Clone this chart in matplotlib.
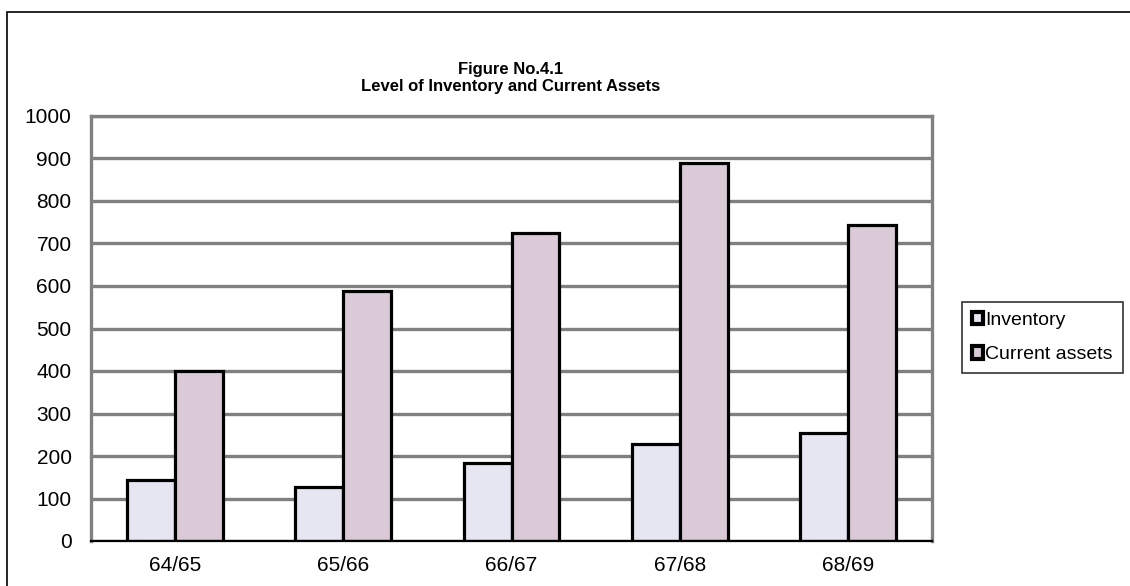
import matplotlib.pyplot as plt
import numpy as np
from matplotlib.patches import Rectangle

years = ["64/65", "65/66", "66/67", "67/68", "68/69"]
inventory = [144, 126, 183, 228, 253]
current_assets = [400, 588, 724, 889, 743]
y_ticks = [0, 100, 200, 300, 400, 500, 600, 700, 800, 900, 1000]

plt.rcParams["font.family"] = ["Liberation Sans", "DejaVu Sans"]

W, H = 1130, 586
fig = plt.figure(figsize=(W / 100, H / 100), dpi=100)
ax = fig.add_axes([91 / W, 1 - 541 / H, (932 - 91) / W, (541 - 116) / H])

# outer chart frame (only left and top edges fall inside the image)
fig.patches.append(Rectangle((7 / W, -0.1), 1.2, 1 - 12 / H + 0.1, transform=fig.transFigure,
                             fill=False, edgecolor="black", linewidth=1.2))

x = np.arange(len(years))
w = 0.285
ax.bar(x - w / 2, inventory, w, color="#E6E6F2", edgecolor="black", linewidth=2.3,
       label="Inventory", zorder=3)
ax.bar(x + w / 2, current_assets, w, color="#DACAD8", edgecolor="black", linewidth=2.3,
       label="Current assets", zorder=3)

ax.set_xlim(-0.5, len(years) - 0.5)
ax.set_ylim(0, 1000)
ax.set_yticks(y_ticks)
ax.set_xticks(x)
ax.set_xticklabels(years)
ax.tick_params(axis="y", length=0, pad=14, labelsize=15)
ax.tick_params(axis="x", length=0, pad=11, labelsize=15)
ax.yaxis.grid(True, color="#808080", linewidth=2.4, zorder=1)

for side in ["left", "top", "right"]:
    ax.spines[side].set_color("#808080")
    ax.spines[side].set_linewidth(2.4)
ax.spines["bottom"].set_color("black")
ax.spines["bottom"].set_linewidth(1.6)
ax.spines["bottom"].set_zorder(4)

fig.text(511 / W, 1 - 78 / H, "Figure No.4.1\nLevel of Inventory and Current Assets",
         ha="center", va="center", fontsize=12, fontweight="bold", linespacing=1.1)

leg = ax.legend(loc="upper left", bbox_to_anchor=(962 / W, 1 - 302 / H),
                bbox_transform=fig.transFigure, fontsize=14, frameon=True, fancybox=False,
                handlelength=0.6, handleheight=0.6, handletextpad=0.1, borderpad=0.5,
                labelspacing=0.9, borderaxespad=0)
leg.get_frame().set_edgecolor("black")
leg.get_frame().set_linewidth(1.2)
for h in leg.legend_handles:
    h.set_linewidth(3)

fig.savefig("out.png", dpi=100)
